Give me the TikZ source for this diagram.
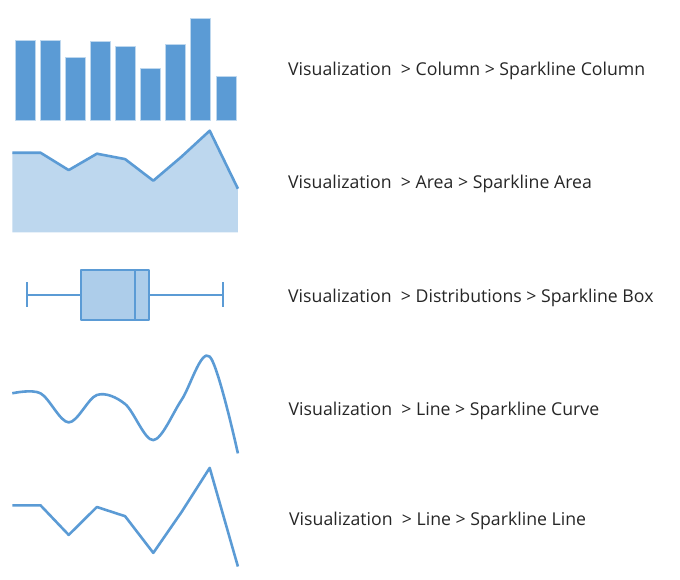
\documentclass[tikz,border=0pt]{standalone}
\usepackage{fontspec}
\setmainfont{Open Sans}
\usepackage{tikz}
\usetikzlibrary{positioning}
\definecolor{sparkblue}{HTML}{5B9BD5}
\definecolor{sparkarea}{HTML}{BDD7EE}
\definecolor{sparkbox}{HTML}{ADCDEA}
\definecolor{labelgray}{HTML}{262626}
\tikzstyle{every node}=[font=\fontsize{17.7}{21}\selectfont,text=labelgray,inner sep=0pt]
\tikzstyle{every path}=[line cap=round,line join=round]
\tikzstyle{bar}=[fill=sparkblue,draw=sparkarea,line width=0.8pt]
\tikzstyle{spark}=[draw=sparkblue,line width=2.6pt]
\tikzstyle{boxpart}=[draw=sparkblue,line width=2pt,line cap=butt]
\tikzstyle{path label}=[anchor=base west]

\begin{document}
\begin{tikzpicture}[x=1pt,y=-1pt]
  \useasboundingbox (0,0) rectangle (680,579);
  \foreach \x/\t in {15/40.3,40/40.3,65/57.7,90/41.3,115/46.7,140/68.3,165/44.3,190/18.3,216/76.3}
    \path[bar] (\x,120) rectangle (\x+20,\t);
  \path[fill=sparkarea] (12.3,232.3) -- (12.3,152.7) -- (40.5,152.7) -- (68.7,170.1) -- (96.9,153.7)
    -- (125.1,159.1) -- (153.3,180.7) -- (181.5,156.7) -- (209.7,130.7) -- (237.9,188.7)
    -- (237.9,232.3) -- cycle;
  \draw[spark,line cap=butt] (12.3,152.7) -- (40.5,152.7) -- (68.7,170.1) -- (96.9,153.7)
    -- (125.1,159.1) -- (153.3,180.7) -- (181.5,156.7) -- (209.7,130.7) -- (237.9,188.7);
  \draw[boxpart] (26.7,282.3) -- (26.7,306.7)
    (223.3,282.3) -- (223.3,306.7)
    (26.7,294.5) -- (80.7,294.5)
    (149.3,294.5) -- (223.3,294.5);
  \draw[boxpart,fill=sparkbox] (80.7,270) rectangle (149.3,320);
  \draw[boxpart] (134.7,270) -- (134.7,320);
  \draw[spark,line cap=butt] plot[smooth,tension=0.55] coordinates {(12.3,393.3) (40.5,393.3) (68.7,422.4)
    (96.9,395) (125.1,404) (153.3,440.1) (181.5,400) (209.7,356.6) (237.9,453.4)};
  \draw[spark,line cap=butt] (12.3,505.3) -- (40.5,505.3) -- (68.7,534.9) -- (96.9,507)
    -- (125.1,516.2) -- (153.3,552.9) -- (181.5,512.1) -- (209.7,467.9) -- (237.9,566.5);
  \node[path label] (column) at (288,75.5) {Visualization\ \ > Column > Sparkline Column};
  \node[path label] (area) at (288,188) {Visualization\ \ > Area > Sparkline Area};
  \node[path label] (box) at (288,302.5) {Visualization\ \ > Distributions > Sparkline Box};
  \node[path label] (curve) at (288.5,415) {Visualization\ \ > Line > Sparkline Curve};
  \node[path label] (line) at (289,525) {Visualization\ \ > Line > Sparkline Line};
\end{tikzpicture}
\end{document}
